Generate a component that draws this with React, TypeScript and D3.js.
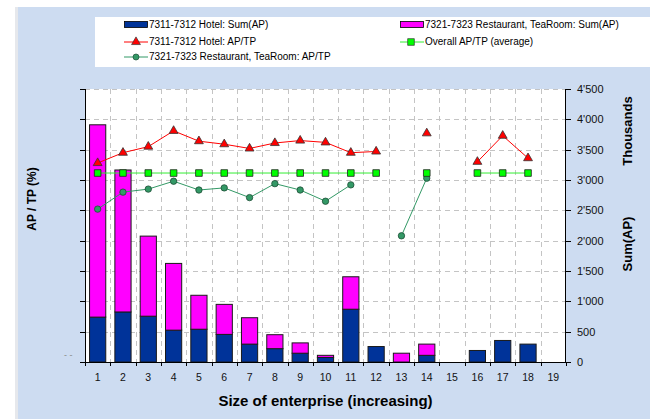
import React from "react";
import * as d3 from "d3";

// Enterprise size classes
const categories = ["1","2","3","4","5","6","7","8","9","10","11","12","13","14","15","16","17","18","19"];

// Sum(AP) in thousands, stacked bars
const hotelSumAP = [740, 825, 755, 525, 540, 455, 295, 220, 145, 75, 870, 255, 0, 110, 0, 190, 355, 295, 0];
const restaurantSumAP = [3170, 2340, 1320, 1100, 560, 495, 435, 230, 170, 35, 535, 0, 145, 185, 0, 0, 0, 0, 0];

// AP/TP ratios (%), null where the class has no data
const hotelAPTP: (number | null)[] = [32.8, 34.5, 35.5, 38.1, 36.4, 35.9, 35.2, 36.1, 36.5, 36.2, 34.5, 34.7, null, 37.7, null, 33.0, 37.3, 33.6, null];
const overallAPTP: (number | null)[] = [31.15, 31.15, 31.15, 31.15, 31.15, 31.15, 31.15, 31.15, 31.15, 31.15, 31.15, 31.15, null, 31.15, null, 31.15, 31.15, 31.15, null];
const restaurantAPTP: (number | null)[] = [25.2, 28.0, 28.5, 29.8, 28.35, 28.7, 27.1, 29.4, 28.35, 26.5, 29.2, null, 20.8, 30.3, null, null, null, null, null];

const rightTicks = [0, 500, 1000, 1500, 2000, 2500, 3000, 3500, 4000, 4500];
const leftTicks = [0, 5, 10, 15, 20, 25, 30, 35, 40, 45];

const W = 650;
const H = 419;
const FONT = "'Liberation Sans', Arial, sans-serif";

const BLUE = "#003399";
const MAGENTA = "#ff00ff";
const RED = "#ff0000";
const GREEN = "#00ff00";
const GREEN_LINE = "#33ee33";
const TEAL = "#339966";
const BG = "#cddcf1";

const fmtThousands = (v: number) => {
  const s = String(v);
  return s.length > 3 ? s.slice(0, s.length - 3) + "'" + s.slice(s.length - 3) : s;
};

export default function App() {
  const left = 85, right = 566, top = 89, bottom = 362;

  const x = d3.scaleBand<string>().domain(categories).range([left, right]).paddingInner(0.36).paddingOuter(0.18);
  const step = x.step();
  const cx = (c: string) => (x(c) as number) + x.bandwidth() / 2;
  const yR = d3.scaleLinear().domain([0, 4500]).range([bottom, top]);
  const yL = d3.scaleLinear().domain([0, 45]).range([bottom, top]);

  const line = d3
    .line<number | null>()
    .defined((d) => d != null)
    .x((_, i) => cx(categories[i]))
    .y((d) => yL(d as number));

  const tri = d3.symbol().type(d3.symbolTriangle).size(34)() as string;
  const sq = d3.symbol().type(d3.symbolSquare).size(44)() as string;

  const boundaries = categories.map((_, i) => left + step * i).concat([right]);

  const dash = "5,4";

  return (
    <svg width={W} height={H} style={{ position: "absolute", left: 0, top: 0, display: "block" }} fontFamily={FONT}>
      <rect x={0} y={0} width={W} height={H} fill="#ffffff" />
      <rect x={15} y={7} width={4} height={H - 7} fill="#e6e8ec" />
      <rect x={18} y={7} width={W - 18} height={H - 7} fill={BG} />

      {/* legend */}
      <rect x={95} y={17} width={W - 95} height={50} fill="#ffffff" />
      <g fontSize={10} fill="#000">
        <rect x={124.5} y={21.5} width={23} height={6} fill={BLUE} stroke="#000" strokeWidth={0.8} />
        <text x={149} y={28}>7311-7312 Hotel: Sum(AP)</text>
        <rect x={400.5} y={21.5} width={23} height={6} fill={MAGENTA} stroke="#000" strokeWidth={0.8} />
        <text x={425} y={28}>7321-7323 Restaurant, TeaRoom: Sum(AP)</text>

        <line x1={124} x2={148} y1={42} y2={42} stroke={RED} strokeWidth={1} />
        <path d={tri} transform="translate(136,42)" fill={RED} stroke="#333" strokeWidth={0.7} />
        <text x={149} y={44.5}>7311-7312 Hotel: AP/TP</text>
        <line x1={400} x2={424} y1={42} y2={42} stroke={GREEN_LINE} strokeWidth={1} />
        <path d={sq} transform="translate(411,42)" fill={GREEN} stroke="#333" strokeWidth={0.7} />
        <text x={425} y={44.5}>Overall AP/TP (average)</text>

        <line x1={124} x2={148} y1={57} y2={57} stroke={TEAL} strokeWidth={1} />
        <circle cx={136} cy={57} r={3} fill={TEAL} stroke="#1d4d35" strokeWidth={0.7} />
        <text x={149} y={60}>7321-7323 Restaurant, TeaRoom: AP/TP</text>
      </g>

      {/* plot area */}
      <rect x={left} y={top} width={right - left} height={bottom - top} fill="#ffffff" />
      <g stroke="#c4c4c4" strokeWidth={1} strokeDasharray={dash}>
        {leftTicks.slice(1).map((t) => (
          <line key={"h" + t} x1={left} x2={right} y1={Math.round(yL(t)) + 0.5} y2={Math.round(yL(t)) + 0.5} />
        ))}
        {boundaries.slice(1, -1).map((b, i) => (
          <line key={"v" + i} x1={Math.round(b) + 0.5} x2={Math.round(b) + 0.5} y1={top} y2={bottom} />
        ))}
      </g>

      {/* stacked bars */}
      <g stroke="#1a1a1a" strokeWidth={1}>
        {categories.map((c, i) => {
          const h = hotelSumAP[i];
          const r = restaurantSumAP[i];
          const bx = x(c) as number;
          return (
            <g key={"b" + c}>
              {h > 0 && (
                <rect x={bx} y={yR(h)} width={x.bandwidth()} height={yR(0) - yR(h)} fill={BLUE} />
              )}
              {r > 0 && (
                <rect x={bx} y={yR(h + r)} width={x.bandwidth()} height={yR(h) - yR(h + r)} fill={MAGENTA} />
              )}
            </g>
          );
        })}
      </g>

      {/* ratio lines */}
      <path d={line(hotelAPTP) as string} fill="none" stroke={RED} strokeWidth={1} />
      <path d={line(overallAPTP) as string} fill="none" stroke={GREEN_LINE} strokeWidth={1} />
      <path d={line(restaurantAPTP) as string} fill="none" stroke={TEAL} strokeWidth={1} />

      {restaurantAPTP.map((v, i) =>
        v == null ? null : (
          <circle key={"c" + i} cx={cx(categories[i])} cy={yL(v)} r={3.2} fill={TEAL} stroke="#1d4d35" strokeWidth={0.8} />
        )
      )}
      {overallAPTP.map((v, i) =>
        v == null ? null : (
          <path key={"s" + i} d={sq} transform={`translate(${cx(categories[i])},${yL(v)})`} fill={GREEN} stroke="#222" strokeWidth={0.8} />
        )
      )}
      {hotelAPTP.map((v, i) =>
        v == null ? null : (
          <path key={"t" + i} d={tri} transform={`translate(${cx(categories[i])},${yL(v)})`} fill={RED} stroke="#333" strokeWidth={0.8} />
        )
      )}

      {/* left axis */}
      <line x1={left + 0.5} x2={left + 0.5} y1={top} y2={bottom} stroke="#000" strokeWidth={1} />
      {leftTicks.map((t) => (
        <line key={"lt" + t} x1={left - 5} x2={left} y1={Math.round(yL(t)) + 0.5} y2={Math.round(yL(t)) + 0.5} stroke="#000" />
      ))}
      <text x={64} y={358} fontSize={9} fill="#8a8a8a">- -</text>

      {/* right axis */}
      <line x1={right - 0.5} x2={right - 0.5} y1={top} y2={bottom} stroke="#000" strokeWidth={1} />
      {rightTicks.map((t) => (
        <g key={"rt" + t}>
          <line x1={right} x2={right + 5} y1={Math.round(yR(t)) + 0.5} y2={Math.round(yR(t)) + 0.5} stroke="#000" />
          <text x={577} y={yR(t)} dy="0.36em" fontSize={11} fill="#111">{fmtThousands(t)}</text>
        </g>
      ))}

      {/* bottom axis */}
      <line x1={left} x2={right} y1={bottom + 0.5} y2={bottom + 0.5} stroke="#000" strokeWidth={1} />
      {boundaries.map((b, i) => (
        <line key={"bt" + i} x1={Math.round(b) + 0.5} x2={Math.round(b) + 0.5} y1={bottom} y2={bottom + 4} stroke="#000" />
      ))}
      {categories.map((c) => (
        <text key={"xl" + c} x={cx(c)} y={381} textAnchor="middle" fontSize={10.5} fill="#111">{c}</text>
      ))}

      {/* titles */}
      <text x={325.5} y={406} textAnchor="middle" fontSize={15} fontWeight="bold" fill="#000">Size of enterprise (increasing)</text>
      <text transform="translate(36,199) rotate(-90)" textAnchor="middle" fontSize={12} fontWeight="bold" fill="#000">AP / TP (%)</text>
      <text transform="translate(632,131) rotate(-90)" textAnchor="middle" fontSize={13} fontWeight="bold" fill="#000">Thousands</text>
      <text transform="translate(632,244) rotate(-90)" textAnchor="middle" fontSize={13} fontWeight="bold" fill="#000">Sum(AP)</text>
    </svg>
  );
}
